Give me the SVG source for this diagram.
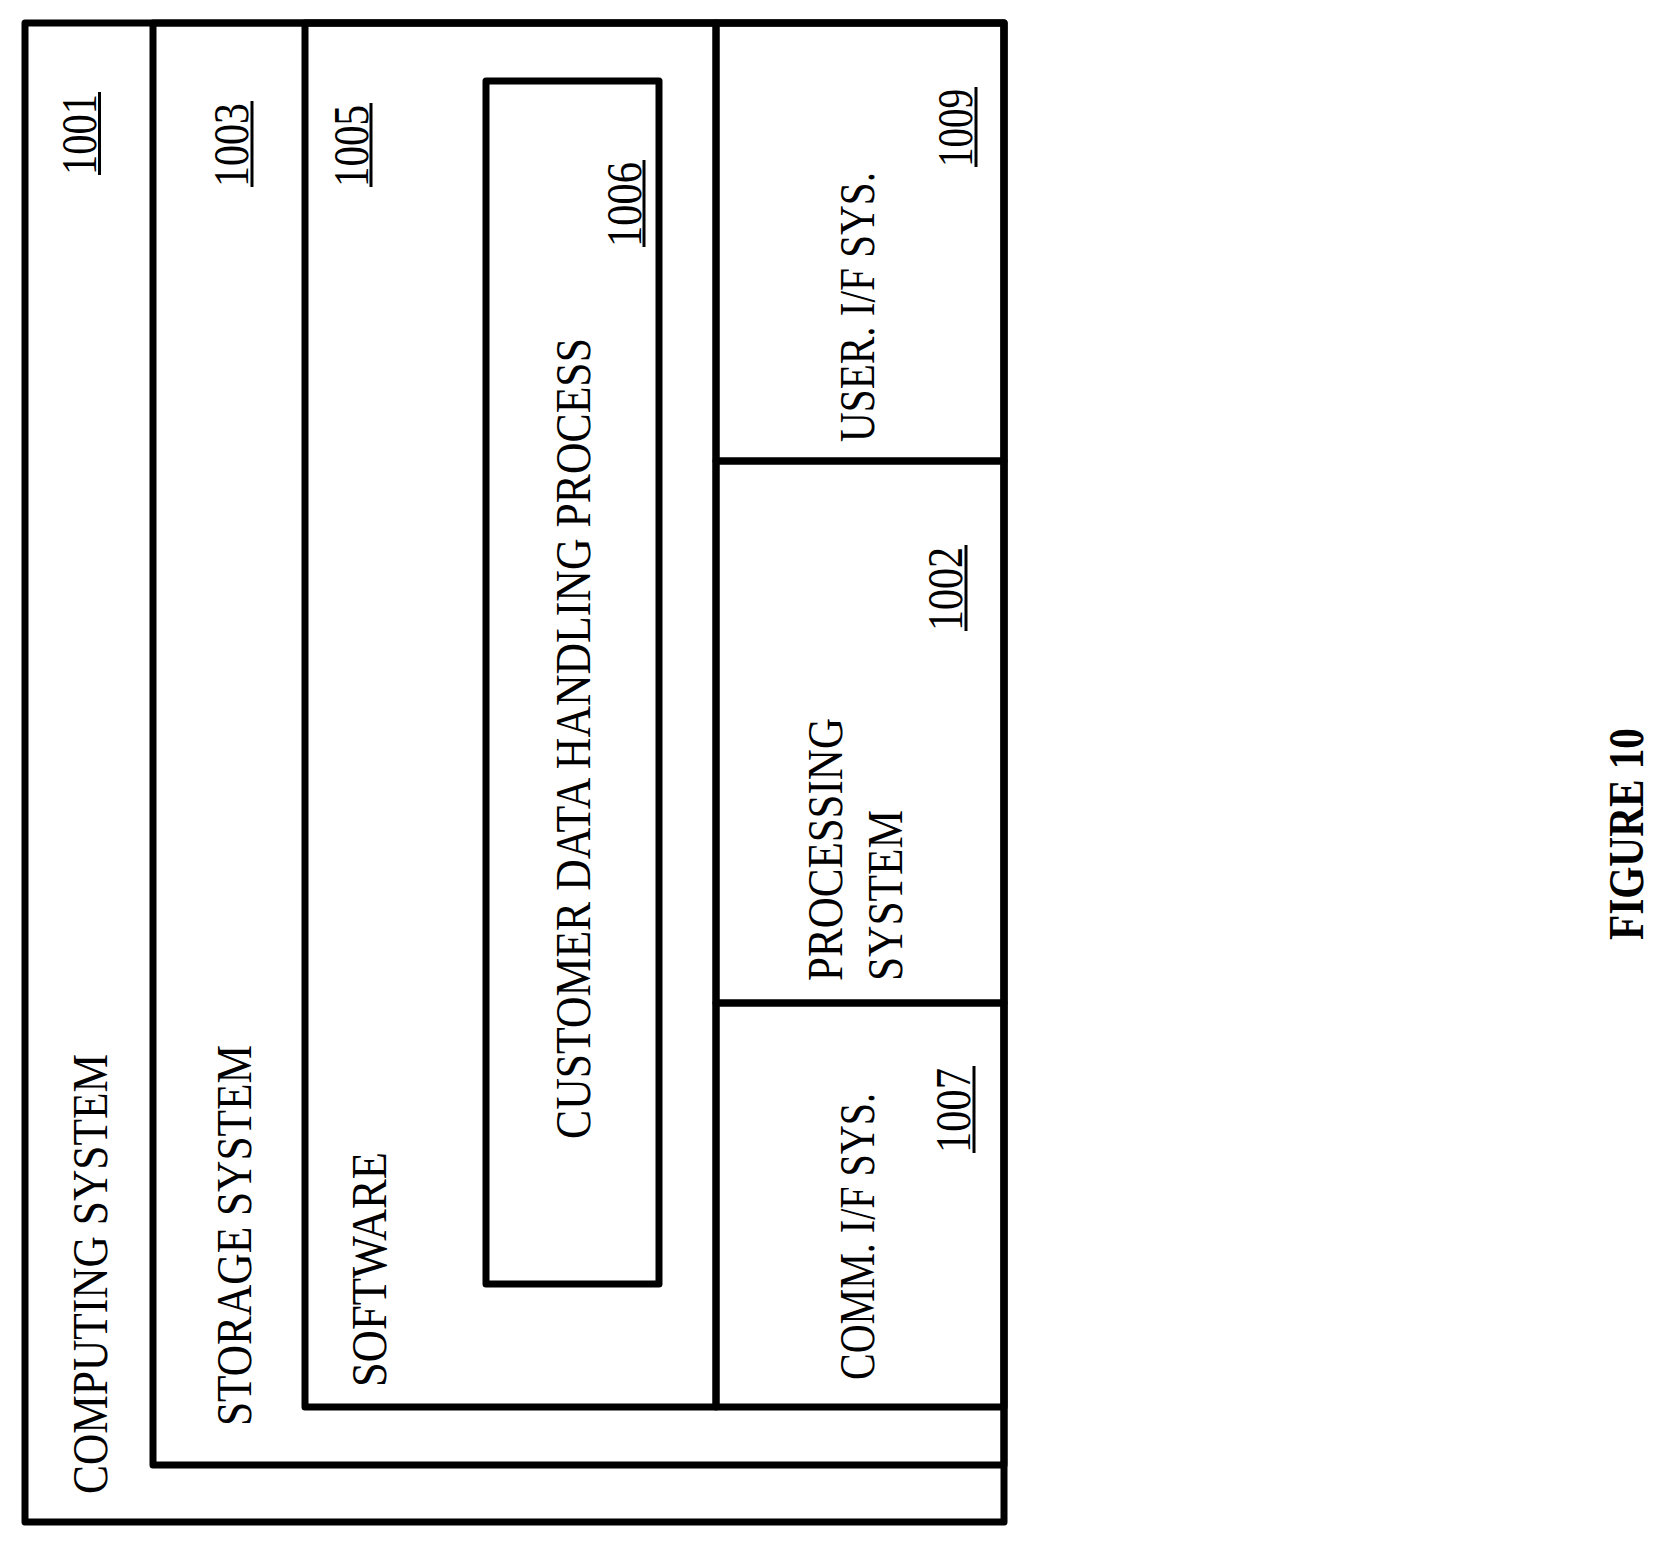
<svg xmlns="http://www.w3.org/2000/svg" width="1664" height="1547" viewBox="0 0 1664 1547">
<style>
.b{fill:none;stroke:#000;stroke-width:7;stroke-linejoin:round}
.t{font-family:"Liberation Serif","Times New Roman",serif;font-size:50px;fill:#000}
.f{font-weight:bold}
.u{stroke:#000;stroke-width:3}
</style>
<rect width="1664" height="1547" fill="#fff"/>
<g id="computing">
<rect class="b" x="25" y="23" width="979" height="1499"/>
<text class="t" transform="translate(107,1494) rotate(-90)" textLength="440" lengthAdjust="spacingAndGlyphs">COMPUTING SYSTEM</text>
<text class="t" transform="translate(96,175) rotate(-90)" textLength="81" lengthAdjust="spacingAndGlyphs">1001</text>
<line class="u" x1="99.5" y1="175" x2="99.5" y2="92"/>
</g>
<g id="storage">
<rect class="b" x="153" y="23" width="851" height="1442"/>
<text class="t" transform="translate(251,1426) rotate(-90)" textLength="381" lengthAdjust="spacingAndGlyphs">STORAGE SYSTEM</text>
<text class="t" transform="translate(248,187) rotate(-90)" textLength="84" lengthAdjust="spacingAndGlyphs">1003</text>
<line class="u" x1="252" y1="187" x2="252" y2="101"/>
</g>
<g id="software">
<rect class="b" x="305" y="23" width="411" height="1384"/>
<text class="t" transform="translate(386,1387) rotate(-90)" textLength="235" lengthAdjust="spacingAndGlyphs">SOFTWARE</text>
<text class="t" transform="translate(368,187) rotate(-90)" textLength="82" lengthAdjust="spacingAndGlyphs">1005</text>
<line class="u" x1="371" y1="187" x2="371" y2="103"/>
</g>
<g id="process">
<rect class="b" x="486" y="81" width="173" height="1203"/>
<text class="t" transform="translate(590,1139) rotate(-90)" textLength="801" lengthAdjust="spacingAndGlyphs">CUSTOMER DATA HANDLING PROCESS</text>
<text class="t" transform="translate(641,247) rotate(-90)" textLength="85" lengthAdjust="spacingAndGlyphs">1006</text>
<line class="u" x1="644" y1="247" x2="644" y2="160"/>
</g>
<g id="userif">
<rect class="b" x="716" y="23" width="288" height="438"/>
<text class="t" transform="translate(874,442) rotate(-90)" textLength="270" lengthAdjust="spacingAndGlyphs">USER. I/F SYS.</text>
<text class="t" transform="translate(972,167) rotate(-90)" textLength="78" lengthAdjust="spacingAndGlyphs">1009</text>
<line class="u" x1="976" y1="167" x2="976" y2="87"/>
</g>
<g id="processing">
<rect class="b" x="716" y="461" width="288" height="542"/>
<text class="t" transform="translate(842,981) rotate(-90)" textLength="263" lengthAdjust="spacingAndGlyphs">PROCESSING</text>
<text class="t" transform="translate(902,981) rotate(-90)" textLength="171" lengthAdjust="spacingAndGlyphs">SYSTEM</text>
<text class="t" transform="translate(962,631) rotate(-90)" textLength="84" lengthAdjust="spacingAndGlyphs">1002</text>
<line class="u" x1="966" y1="631" x2="966" y2="545"/>
</g>
<g id="commif">
<rect class="b" x="716" y="1003" width="288" height="404"/>
<text class="t" transform="translate(874,1380) rotate(-90)" textLength="287" lengthAdjust="spacingAndGlyphs">COMM. I/F SYS.</text>
<text class="t" transform="translate(970,1153) rotate(-90)" textLength="85" lengthAdjust="spacingAndGlyphs">1007</text>
<line class="u" x1="974" y1="1153" x2="974" y2="1066"/>
</g>
<g id="connectors"></g>
<g id="caption">
<text class="t f" transform="translate(1643,940) rotate(-90)" textLength="212" lengthAdjust="spacingAndGlyphs">FIGURE 10</text>
</g>
</svg>
